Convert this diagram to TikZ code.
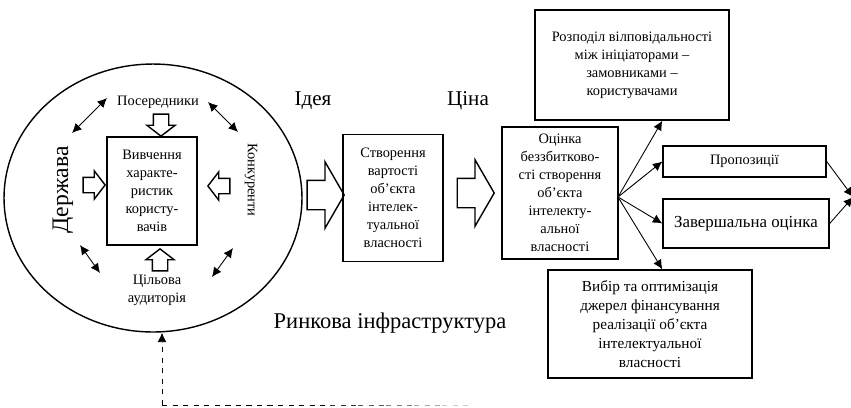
\documentclass[tikz,border=0pt]{standalone}
\usepackage{fontspec}
\setmainfont{Liberation Serif}
\usetikzlibrary{shapes.geometric,shapes.arrows,arrows.meta}

\tikzset{
	box/.style={draw, line width=0.8pt, align=center, inner sep=1pt, font=\fontsize{8.2}{10.2}\selectfont},
	hollow/.style={single arrow, draw, line width=0.8pt, inner xsep=0pt},
	smallarrow/.style={hollow, inner xsep=0.14cm, inner ysep=0.14cm, minimum height=0.44cm, single arrow head extend=0.13cm, single arrow tip angle=105},
	bigarrow/.style={hollow, inner ysep=0.28cm, minimum height=0.74cm, single arrow head extend=0.37cm, single arrow tip angle=120},
	link/.style={-{Latex[length=1.9mm,width=1.8mm]}, line width=0.5pt},
	twoway/.style={{Latex[length=1.9mm,width=1.8mm]}-{Latex[length=1.9mm,width=1.8mm]}, line width=0.5pt},
	word/.style={font=\fontsize{8.2}{10}\selectfont, align=center, inner sep=1pt},
	bigword/.style={font=\fontsize{12}{14}\selectfont, inner sep=1pt}
}

\begin{document}
\begin{tikzpicture}[x=0.02cm,y=-0.02cm]
	\useasboundingbox (0,0) rectangle (851,407);
	% market environment
	\node[draw, ellipse, line width=0.8pt, minimum width=5.96cm, minimum height=5.36cm, inner sep=0pt] (market) at (153,198) {};
	\node[box, minimum width=1.8cm, minimum height=2.16cm] (study) at (152,191) {Вивчення\\характе-\\ристик\\користу-\\вачів};
	\node[word] (mediators) at (158,102) {Посередники};
	\node[word, rotate=-90] (rivals) at (251,180) {Конкуренти};
	\node[word] (audience) at (157,290) {Цільова\\аудиторія};
	\node[bigword, font=\fontsize{13.5}{15}\selectfont, rotate=90] (state) at (63,190) {Держава};
	\node[smallarrow, shape border rotate=270, anchor=tip] (arrN) at (161,137) {};
	\node[smallarrow, shape border rotate=90, anchor=tip] (arrS) at (160,248) {};
	\node[smallarrow, anchor=tip] (arrW) at (106,185) {};
	\node[smallarrow, shape border rotate=180, anchor=tip] (arrE) at (207,186) {};
	\coordinate (nwA) at (72,133); \coordinate (nwB) at (107,98);
	\coordinate (neA) at (208,102); \coordinate (neB) at (238,132);
	\coordinate (swA) at (80,245); \coordinate (swB) at (100,273);
	\coordinate (seA) at (212,277); \coordinate (seB) at (233,248);
	\draw[twoway] (nwA) -- (nwB);
	\draw[twoway] (neA) -- (neB);
	\draw[twoway] (swA) -- (swB);
	\draw[twoway] (seA) -- (seB);
	\node[bigword, font=\fontsize{12.8}{15}\selectfont] (infra) at (390,323) {Ринкова інфраструктура};
	% value chain
	\node[bigword] (idea) at (313,101) {Ідея};
	\node[bigword] (price) at (468,101) {Ціна};
	\node[bigarrow, anchor=tip] (big1) at (345,195) {};
	\node[box, minimum width=2cm, minimum height=2.54cm] (create) at (393,198) {Створення\\вартості\\об’єкта\\інтелек-\\туальної\\власності};
	\node[bigarrow, anchor=tip] (big2) at (495,193) {};
	\node[box, minimum width=2.32cm, minimum height=2.64cm] (estim) at (560,193) {Оцінка\\беззбитково-\\сті створення\\об’єкта\\інтелекту-\\альної\\власності};
	\node[box, minimum width=3.88cm, minimum height=2.2cm] (distr) at (632,65) {Розподіл вілповідальності\\між ініціаторами –\\замовниками –\\користувачами};
	\node[box, minimum width=3.26cm, minimum height=0.62cm] (prop) at (744.5,161.5) {Пропозиції};
	\node[box, font=\fontsize{9.6}{11}\selectfont, minimum width=3.32cm, minimum height=0.98cm] (final) at (746,223.5) {Завершальна оцінка};
	\node[box, font=\fontsize{8.7}{10.8}\selectfont, minimum width=4.08cm, minimum height=2.16cm] (choice) at (650,324) {Вибір та оптимізація\\джерел фінансування\\реалізації об’єкта\\інтелектуальної\\власності};
	\coordinate (fan) at (618,197);
	\coordinate (merge) at (853,197);
	\draw[link] (fan) -- (distr.south -| prop.west);
	\draw[link] (fan) -- (prop.west);
	\draw[link] (fan) -- (final.west);
	\draw[link] (fan) -- (choice.north -| prop.west);
	\draw[link] (prop.east) -- (merge);
	\draw[link] (final.east) -- (merge);
	% feedback
	\coordinate (feed) at (162,405);
	\coordinate (fade) at (330,405);
	\draw[link, dashed] (feed) -- (feed |- market.south);
	\draw[dashed, line width=0.5pt] (feed) -- (fade);
	\foreach \g [count=\k] in {80,65,50,35,20}
		\draw[dashed, line width=0.5pt, black!\g] (302+28*\k,405) -- +(28,0);
\end{tikzpicture}
\end{document}
